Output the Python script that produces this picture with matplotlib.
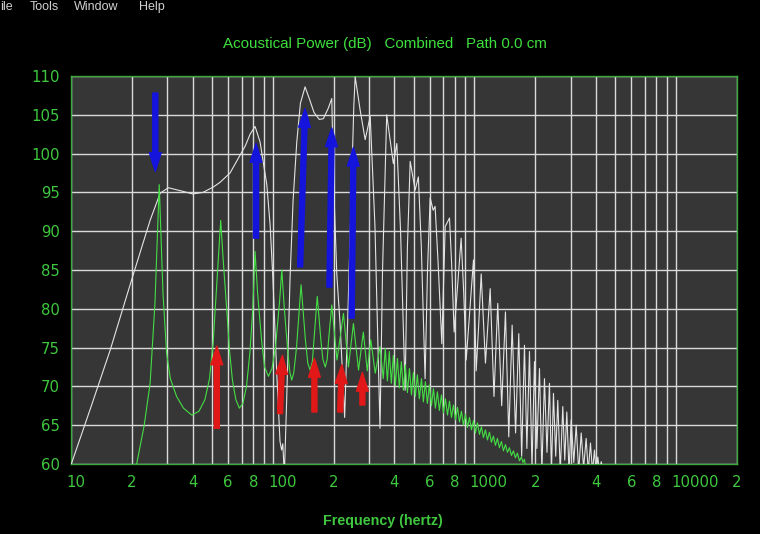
import matplotlib
matplotlib.use("Agg")
import matplotlib.pyplot as plt
import matplotlib.transforms as mtransforms
from matplotlib.patches import FancyArrowPatch

# ---------------- data ----------------
white_freq = [10, 12.5, 15.6, 19.9, 24.6, 27.6, 30.3, 35, 40, 45, 50.7, 54.7, 61.3, 68.7, 73, 77.1,
              81.6, 86.4, 93.3, 96.9, 100, 104.6, 108.5, 110.5, 112, 114, 117, 121.7, 126, 131.4,
              137, 144.5, 152, 160, 170, 178, 188, 196, 199.5, 207.6, 215.6, 227, 236, 245, 252,
              256, 271, 287, 304, 321, 340, 350, 367, 396, 412, 430, 453, 465, 480, 508, 527,
              545, 569, 585, 603, 624, 638, 660, 689, 716, 752, 770, 793, 825, 859, 885, 910,
              950, 989, 1020, 1050, 1080, 1134, 1197, 1250, 1305, 1365, 1425, 1480, 1538, 1600,
              1659, 1715, 1771, 1820, 1875, 1930, 1985, 2040, 2102, 2160, 2225, 2290, 2356, 2410,
              2466, 2530, 2590, 2665, 2743, 2805, 2872, 2945, 3020, 3110, 3197, 3290, 3385, 3480,
              3583, 3670, 3764, 3850, 3940, 4010, 4093, 4170, 4256, 4350]
white_db = [60, 67.3, 74.7, 83.7, 91.4, 94.9, 95.6, 95.2, 94.8, 95.0, 95.7, 96.3, 97.5, 99.8, 101.0, 102.5,
            103.5, 101.5, 96, 90.8, 84, 71.5, 62.9, 61.8, 62.6, 58.5, 68, 84, 94, 101.5,
            106.5, 108.6, 107.0, 105.3, 104.4, 104.5, 105.8, 107.1, 97.2, 84.4, 77.9, 66, 80, 95, 106,
            109.9, 105.6, 101.8, 104.8, 90.6, 64.6, 85, 105.0, 98.7, 101.3, 90, 69.5, 88, 99.0, 95.3, 97.0,
            88, 71.0, 85, 94.3, 92.7, 93.2, 86, 75.5, 90.6, 91.7, 86, 77, 83, 89.1, 82, 73.4,
            80, 86.3, 72.0, 78, 84.5, 73.0, 82.6, 68.7, 80.7, 67.5, 79.6, 63.5, 77.9, 64.0,
            76.8, 61.0, 75.3, 62.0, 74.5, 59.5, 73.2, 62.0, 72.3, 59.0, 71.0, 61.5, 70.4, 59.0,
            69.1, 61.0, 68.2, 59.0, 67.4, 60.5, 66.7, 59.0, 65.7, 60.2, 65.0, 59.0, 64.0, 59.5,
            63.3, 59.0, 62.7, 59.0, 61.8, 59.0, 60.9, 59.0, 60.3, 59.0]

green_freq = [21.1, 23, 24.6, 26.0, 26.8, 27.3, 27.8, 28.5, 29.7, 31, 33.3, 36, 39.6, 43, 46, 48.5, 50.6,
              53.5, 55.1, 56.8, 59.0, 61, 63, 65.5, 68.2, 71, 74, 77, 79.5, 81.6, 84, 88, 91, 95, 99,
              103, 108, 110.7, 114, 119, 121.5, 124, 127, 131, 138, 145, 149, 153, 157, 160, 166,
              173, 177, 182, 186, 189, 196, 208, 224, 237, 251, 266, 281, 294, 306, 322, 340,
              353, 361, 370, 378, 387, 396, 405, 415, 424, 434, 444, 454, 465, 476, 487, 498, 509, 521,
              533, 546, 558, 571, 584, 598, 612, 626, 640, 655, 670, 686, 702, 718, 735, 752, 769, 787,
              805, 824, 843, 862, 882, 902, 923, 945, 966, 989, 1011, 1035, 1059, 1083, 1108, 1134,
              1160, 1187, 1214, 1242, 1271, 1300, 1330, 1361, 1393, 1425, 1458, 1491, 1526, 1561,
              1597, 1634, 1672, 1711, 1740, 1770, 1790]
green_db = [60, 65, 70.4, 80.7, 90, 96.0, 90, 82, 74.3, 71, 68.7, 67.2, 66.3, 66.8, 68.3, 71, 75.8,
            86, 91.4, 86, 80, 74.5, 70.8, 68.3, 67.2, 67.8, 70, 74.5, 80, 87.4, 82, 75.8, 72.5, 71.3, 72.3,
            75, 81, 85.0, 80, 74, 71.8, 70.8, 71.8, 75, 83.1, 76, 73, 72.1, 73.2, 76, 81.6,
            76, 73.5, 72.5, 73.5, 76, 80.5, 73.4, 79.4, 72.5, 78.1, 72.1, 77.0, 72, 76.0, 71.7, 75.1,
            71.0, 74.9, 70.7, 74.5, 70.4, 74.0, 70.1, 73.6, 69.8, 73.2, 69.5, 72.8, 69.2, 72.3, 68.9, 71.8, 68.7, 71.5,
            68.4, 71.0, 68.0, 70.6, 67.8, 70.2, 67.5, 69.7, 67.2, 69.3, 66.9, 68.9, 66.6, 68.4, 66.3, 68.1, 66.0, 67.6,
            65.7, 67.3, 65.4, 66.8, 65.0, 66.4, 64.7, 66.0, 64.4, 65.6, 64.0, 65.3, 63.8, 64.8, 63.4, 64.4,
            63.1, 64.1, 62.8, 63.6, 62.4, 63.3, 62.1, 62.9, 61.7, 62.5, 61.5, 62.1, 61.1, 61.7,
            60.8, 61.4, 60.4, 60.9, 60.2, 60.6, 59.8]

# arrows: (freq_start, db_start, freq_end, db_end)
blue_arrows = [(26.1, 107.8, 26.1, 97.7),
               (82.5, 89.1, 82.5, 101.3),
               (136.5, 85.4, 144.5, 105.8),
               (190.7, 82.8, 196.0, 103.3),
               (246.0, 78.8, 251.0, 100.8)]
red_arrows = [(52.7, 64.6, 52.7, 75.2),
              (108.5, 66.5, 111.5, 74.0),
              (160.7, 66.7, 160.7, 73.6),
              (215.6, 66.7, 220.0, 72.8),
              (278.0, 67.6, 278.0, 71.8)]

x_grid = [10, 20, 30, 40, 50, 60, 70, 80, 90,
          100, 200, 300, 400, 500, 600, 700, 800, 900,
          1000, 2000, 3000, 4000, 5000, 6000, 7000, 8000, 9000,
          10000, 20000]
x_labels = ['10', '2', '', '4', '', '6', '', '8', '',
            '100', '2', '', '4', '', '6', '', '8', '',
            '1000', '2', '', '4', '', '6', '', '8', '',
            '10000', '2']
y_ticks = [60, 65, 70, 75, 80, 85, 90, 95, 100, 105, 110]

title = "Acoustical Power (dB)   Combined   Path 0.0 cm"
xlabel = "Frequency (hertz)"
menu_items = [("ile", 0), ("Tools", 30), ("Window", 74), ("Help", 139)]

# ---------------- style ----------------
GREEN_TXT = '#3fc83f'
W, H = 760, 534
fig = plt.figure(figsize=(W / 100, H / 100), dpi=100, facecolor='black')
ax = fig.add_axes([71.3 / W, 70 / H, 665.4 / W, 388 / H])
ax.set_facecolor('#363636')
ax.set_xscale('log')
ax.set_xlim(10, 20000)
ax.set_ylim(60, 110)

ax.set_xticks(x_grid)
ax.set_xticklabels(x_labels)
ax.xaxis.set_minor_locator(matplotlib.ticker.NullLocator())
ax.set_yticks(y_ticks)
ax.set_yticklabels([str(v) for v in y_ticks])
ax.grid(True, color='#dadada', lw=1.0)
ax.set_axisbelow(True)
ax.tick_params(axis='both', length=0, colors=GREEN_TXT, labelsize=10.7)
ax.tick_params(axis='x', pad=8)
ax.tick_params(axis='y', pad=8)
for sp in ax.spines.values():
    sp.set_color('#3aa83a')
    sp.set_linewidth(1.0)

offset = mtransforms.ScaledTranslation(-4.7 / 100, 0, fig.dpi_scale_trans)
for lbl in ax.get_xticklabels():
    lbl.set_horizontalalignment('left')
    lbl.set_transform(lbl.get_transform() + offset)

ax.plot(white_freq, white_db, color='#e4e4e4', lw=0.8, zorder=3)
ax.plot(green_freq, green_db, color='#44dd44', lw=0.8, zorder=4)

def arrow(a, color):
    p = FancyArrowPatch((a[0], a[1]), (a[2], a[3]),
                        arrowstyle='simple,head_length=1.35,head_width=0.85,tail_width=0.36',
                        mutation_scale=10, color=color, shrinkA=0, shrinkB=0, zorder=6)
    ax.add_patch(p)

for a in blue_arrows:
    arrow(a, '#1414dc')
for a in red_arrows:
    arrow(a, '#e01818')

fig.text(385 / W, 1 - 44 / H, title, ha='center', va='center', color='#3ee03e',
         fontsize=10.9, family=['Liberation Sans', 'DejaVu Sans'])
fig.text(383 / W, 1 - 521 / H, xlabel, ha='center', va='center', color=GREEN_TXT,
         fontsize=10.3, fontweight='bold', family=['Liberation Sans', 'DejaVu Sans'])
for txt, xpx in menu_items:
    fig.text(xpx / W, 1 - 10 / H, txt, ha='left', va='baseline', color='#d0d0d0',
             fontsize=9, family=['Liberation Sans', 'DejaVu Sans'])

fig.savefig('out.png', dpi=100, facecolor='black')
